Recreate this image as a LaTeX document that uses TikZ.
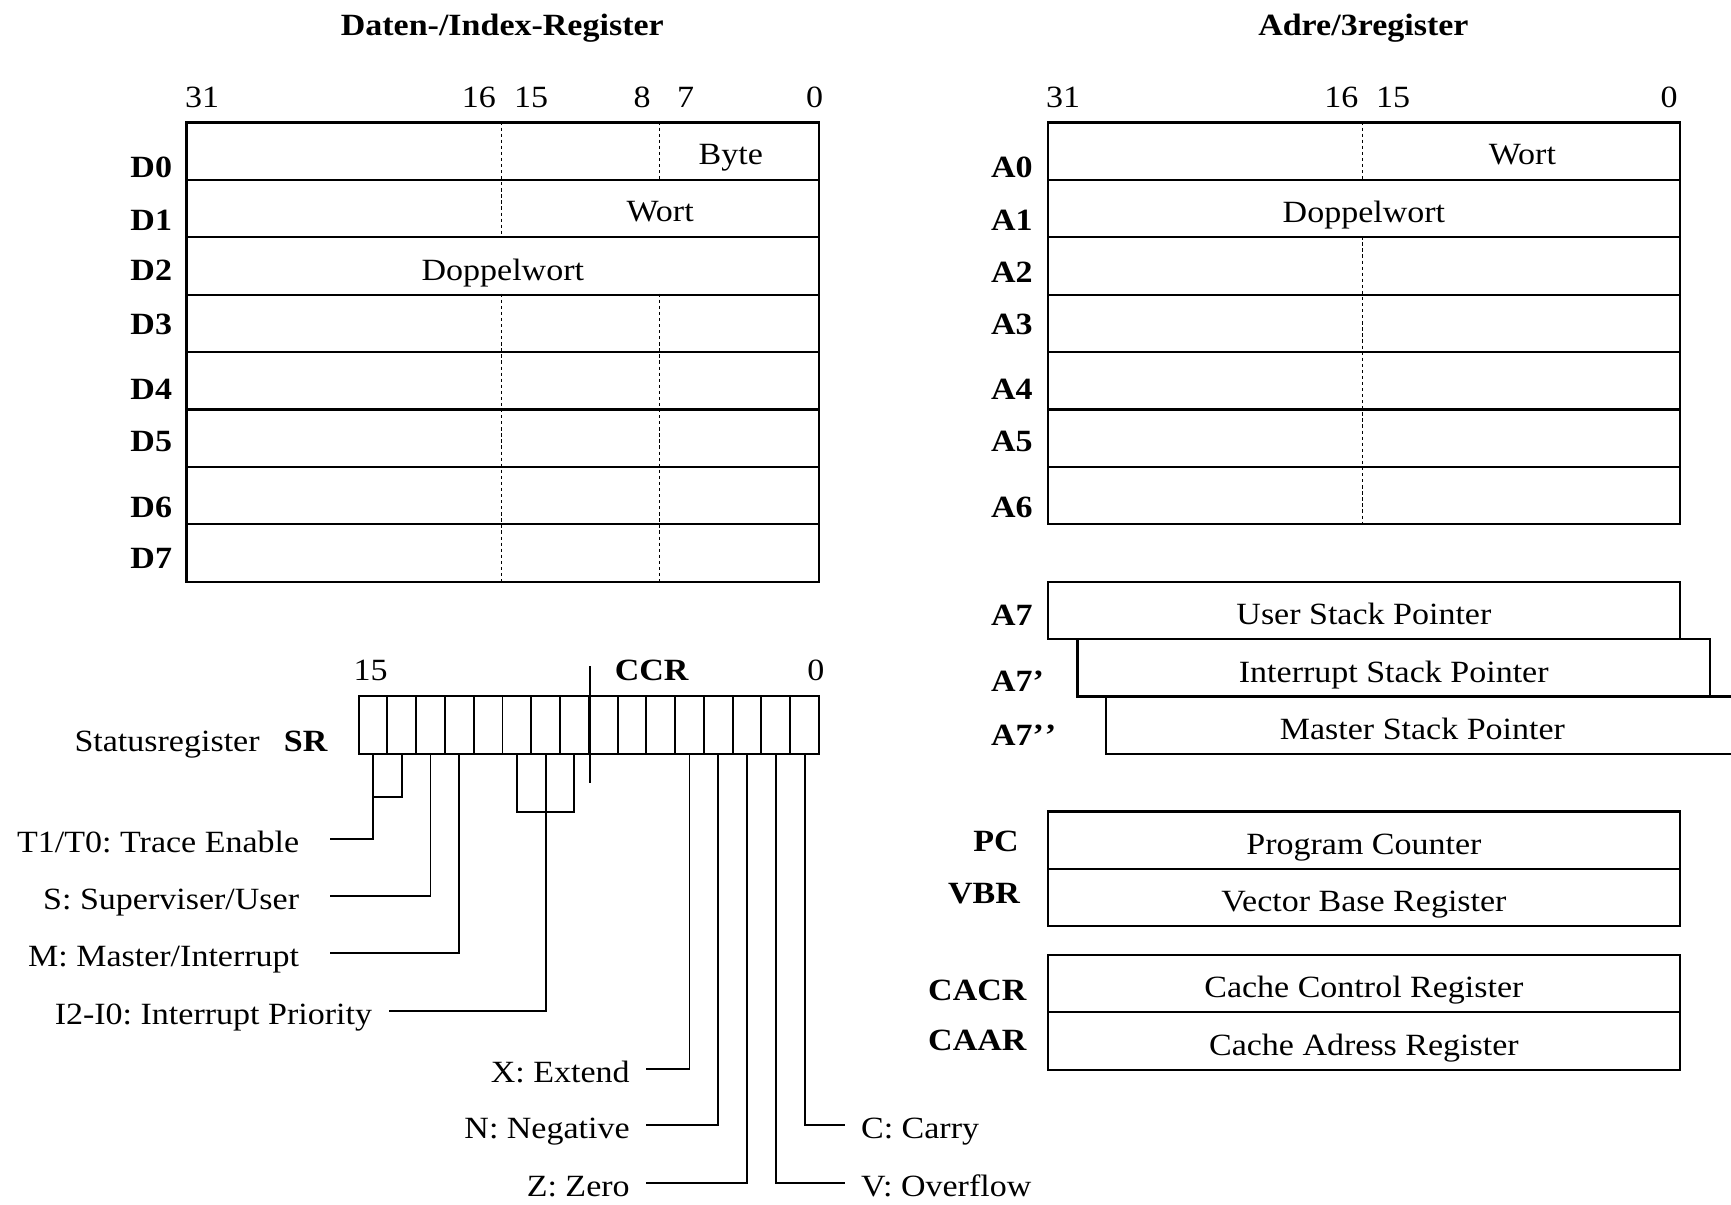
\documentclass[tikz,border=0pt]{standalone}
\usepackage{fontspec}
\setmainfont{Liberation Serif}[FakeStretch=1.1]
\usetikzlibrary{calc}
\frenchspacing
\tikzset{
  txt/.style={font=\fontsize{28}{34}\selectfont, inner sep=0pt},
  btxt/.style={font=\fontsize{28}{34}\selectfont\bfseries, inner sep=0pt},
  regbox/.style={draw, line width=2pt, minimum width=573pt, minimum height=52pt,
    inner sep=0pt, anchor=north west, font=\fontsize{28}{34}\selectfont,
    text height=25.8pt, text depth=0pt},
  cell/.style={draw, line width=1.7pt, minimum width=26.0625pt, minimum height=52.3pt,
    inner sep=0pt, anchor=north west},
  div/.style={line width=1pt, dash pattern=on 3pt off 2.5pt},
  conn/.style={line width=1.7pt},
  desc/.style={font=\fontsize{28}{34}\selectfont, inner xsep=0pt, inner ysep=0pt,
    text height=24.4pt, text depth=0pt},
}
\begin{document}
\begin{tikzpicture}[x=1pt,y=-1pt]
\useasboundingbox (0,0) rectangle (1568,1091);

% ---------- titles ----------
\node[btxt, anchor=base] (tD) at (455,32) {Daten-/Index-Register};
\node[btxt, anchor=base] (tA) at (1235,32) {Adre/3register};

% ---------- bit numbers ----------
\node[txt, anchor=base] (nD31) at (183,97.5) {31};
\node[txt, anchor=base] (nD16) at (433.7,97.5) {16};
\node[txt, anchor=base] (nD15) at (481,97.5) {15};
\node[txt, anchor=base] (nD8) at (581.7,97.5) {8};
\node[txt, anchor=base] (nD7) at (621,97.5) {7};
\node[txt, anchor=base] (nD0) at (738,97.5) {0};
\node[txt, anchor=base] (nA31) at (963,97.5) {31};
\node[txt, anchor=base] (nA16) at (1215,97.5) {16};
\node[txt, anchor=base] (nA15) at (1262,97.5) {15};
\node[txt, anchor=base] (nA0) at (1512,97.5) {0};

% ---------- data registers ----------
\node[regbox] (d0) at (168,110) {};
\node[regbox] (d1) at (168,162) {};
\node[regbox] (d2) at (168,214) {Doppelwort};
\node[regbox] (d3) at (168,266) {};
\node[regbox] (d4) at (168,318) {};
\node[regbox] (d5) at (168,370) {};
\node[regbox] (d6) at (168,422) {};
\node[regbox] (d7) at (168,474) {};
\draw[div] (454.5,110) -- (454.5,214);
\draw[div] (454.5,266) -- (454.5,526);
\draw[div] (597.75,110) -- (597.75,162);
\draw[div] (597.75,266) -- (597.75,526);
\node[txt, anchor=base] (byte) at (662,149) {Byte};
\node[txt, anchor=base] (wortD) at (598,201) {Wort};

\node[btxt, anchor=base west] (lD0) at (118,161) {D0};
\node[btxt, anchor=base west] (lD1) at (118,209) {D1};
\node[btxt, anchor=base west] (lD2) at (118,254) {D2};
\node[btxt, anchor=base west] (lD3) at (118,303) {D3};
\node[btxt, anchor=base west] (lD4) at (118,361.5) {D4};
\node[btxt, anchor=base west] (lD5) at (118,409) {D5};
\node[btxt, anchor=base west] (lD6) at (118,469) {D6};
\node[btxt, anchor=base west] (lD7) at (118,515) {D7};

% ---------- address registers ----------
\node[regbox] (a0) at (948,110) {};
\node[regbox] (a1) at (948,162) {Doppelwort};
\node[regbox] (a2) at (948,214) {};
\node[regbox] (a3) at (948,266) {};
\node[regbox] (a4) at (948,318) {};
\node[regbox] (a5) at (948,370) {};
\node[regbox] (a6) at (948,422) {};
\draw[div] (1234.5,110) -- (1234.5,162);
\draw[div] (1234.5,214) -- (1234.5,474);
\node[txt, anchor=base] (wortA) at (1379,149) {Wort};

\node[btxt, anchor=base west] (lA0) at (897.5,161) {A0};
\node[btxt, anchor=base west] (lA1) at (897.5,209) {A1};
\node[btxt, anchor=base west] (lA2) at (897.5,256) {A2};
\node[btxt, anchor=base west] (lA3) at (897.5,303) {A3};
\node[btxt, anchor=base west] (lA4) at (897.5,361.5) {A4};
\node[btxt, anchor=base west] (lA5) at (897.5,409) {A5};
\node[btxt, anchor=base west] (lA6) at (897.5,469) {A6};

% ---------- stack pointers ----------
\node[regbox] (usp) at (948,526) {User Stack Pointer};
\node[regbox] (isp) at (975,578) {Interrupt Stack Pointer};
\node[regbox] (msp) at (1001,630) {Master Stack Pointer};
\node[btxt, anchor=base west] (lA7) at (897.5,566.5) {A7};
\node[btxt, anchor=base west] (lA7a) at (897.5,626) {A7'};
\node[btxt, anchor=base west] (lA7b) at (897.5,675) {A7'\kern1pt'};

% ---------- control registers ----------
\node[regbox] (pc) at (948,734) {Program Counter};
\node[regbox] (vbr) at (948,786) {Vector Base Register};
\node[regbox] (cacr) at (948,864) {Cache Control Register};
\node[regbox] (caar) at (948,916) {Cache Adress Register};
\node[btxt, anchor=base east] (lPC) at (923,771.5) {PC};
\node[btxt, anchor=base east] (lVBR) at (924,818) {VBR};
\node[btxt, anchor=base east] (lCACR) at (930,906) {CACR};
\node[btxt, anchor=base east] (lCAAR) at (930,951.5) {CAAR};

% ---------- status register ----------
\foreach \i in {0,...,15}
  \node[cell] (sr\i) at ({324+(15-\i)*26.0625},630) {};
\node[txt, anchor=base] (n15) at (335.8,616) {15};
\node[btxt, anchor=base] (ccr) at (590.3,616) {CCR};
\node[txt, anchor=base] (n0) at (739,616) {0};
\draw[conn] ($(sr8.north east)+(0,-26.7)$) -- ($(sr8.south east)+(0,25.7)$);
\node[txt, anchor=base east] (srl) at (297,681) {Statusregister\hspace{22pt}\textbf{SR}};

% ---------- flag descriptions ----------
\node[desc, anchor=east, outer xsep=28pt] (t10) at (299,760) {T1/T0: Trace Enable};
\node[desc, anchor=east, outer xsep=28pt] (sup) at (299,812) {S: Superviser/User};
\node[desc, anchor=east, outer xsep=28pt] (mst) at (299,863) {M: Master/Interrupt};
\node[desc, anchor=east, outer xsep=15pt] (ipl) at (352,916) {I2-I0: Interrupt Priority};
\node[desc, anchor=east, outer xsep=15pt] (ext) at (585.4,968.5) {X: Extend};
\node[desc, anchor=east, outer xsep=15pt] (neg) at (585.4,1019) {N: Negative};
\node[desc, anchor=east, outer xsep=15pt] (zer) at (585.4,1071.4) {Z: Zero};
\node[desc, anchor=west, outer xsep=15pt] (car) at (765,1019) {C: Carry};
\node[desc, anchor=west, outer xsep=15pt] (ovf) at (765,1071.4) {V: Overflow};

% ---------- connectors ----------
\draw[conn] (sr14.south) -- ++(0,38) -| (sr15.south);
\draw[conn] (sr15.south) |- (t10.east);
\draw[conn] (sr13.south) |- (sup.east);
\draw[conn] (sr12.south) |- (mst.east);
\draw[conn] (sr10.south) -- ++(0,51.4) -| (sr8.south);
\draw[conn] (sr9.south) |- (ipl.east);
\draw[conn] (sr4.south) |- (ext.east);
\draw[conn] (sr3.south) |- (neg.east);
\draw[conn] (sr2.south) |- (zer.east);
\draw[conn] (sr1.south) |- (ovf.west);
\draw[conn] (sr0.south) |- (car.west);
\end{tikzpicture}
\end{document}
